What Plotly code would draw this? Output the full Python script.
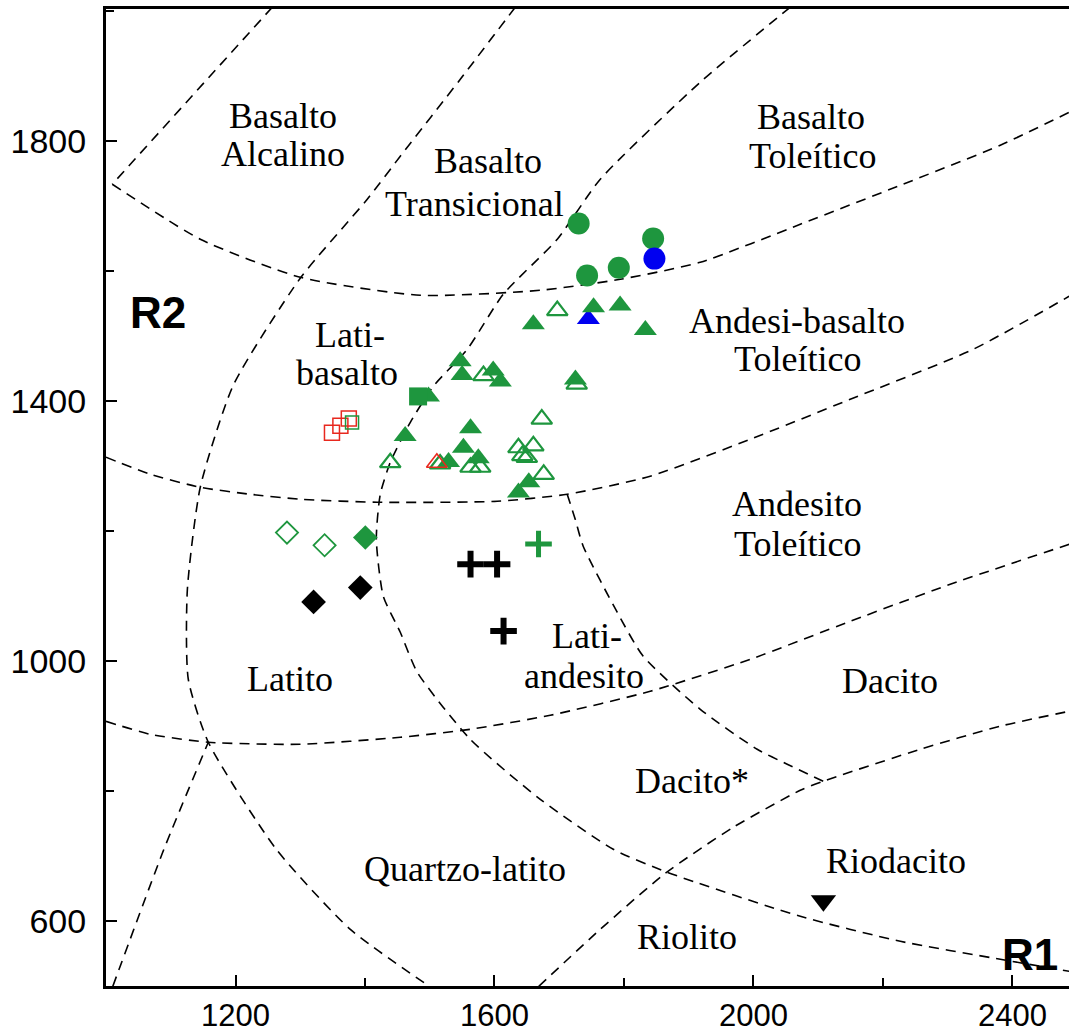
import plotly.graph_objects as go

GREEN = "rgb(30,150,62)"
BLUE = "rgb(0,0,240)"
RED = "rgb(232,40,30)"
BLACK = "black"

# ---------------- boundary curves (R1, R2) ----------------
line_alk_x = [1256.8, 1009.7]
line_alk_y = [2005.7, 1733.4]

curve_a_x = [1009.7, 1145.6, 1300.0, 1485.4, 1670.7, 1794.3, 1917.8, 2072.3, 2226.7, 2381.2, 2487.8]
curve_a_y = [1733.4, 1648.8, 1590.3, 1562.6, 1570.3, 1587.2, 1613.4, 1671.8, 1731.8, 1793.4, 1844.2]

arc1_x = [1632.1, 1547.2, 1454.5, 1403.5, 1300.0, 1196.6, 1145.6, 1125.6, 1127.1, 1158.0, 1263.0, 1377.3, 1499.3]
arc1_y = [2005.7, 1894.9, 1776.5, 1710.3, 1588.8, 1424.2, 1267.3, 1108.8, 971.9, 875.0, 710.3, 587.2, 499.5]

arc2_x = [2056.8, 1917.8, 1763.4, 1697.0, 1613.6, 1558.0, 1505.5, 1470.0, 1439.1, 1423.6, 1417.5,
          1428.3, 1454.5, 1480.8, 1562.6, 1670.7, 1783.5, 1866.9, 2072.3, 2226.7, 2381.2, 2487.8]
arc2_y = [2005.7, 1890.3, 1741.1, 1648.8, 1564.2, 1479.5, 1422.6, 1367.2, 1305.7, 1256.5, 1187.2,
          1099.5, 1044.2, 982.6, 879.5, 787.2, 710.3, 674.9, 607.2, 568.8, 541.1, 522.6]

curve_b_x = [1000.0, 1068.4, 1145.6, 1222.8, 1300.0, 1418.9, 1604.2, 1712.3, 1840.5, 1995.0, 2149.4, 2339.4, 2487.6]
curve_b_y = [1313.4, 1287.2, 1267.2, 1256.5, 1248.8, 1244.2, 1245.7, 1256.5, 1284.2, 1341.1, 1402.6, 1479.5, 1561.1]

curve_la_x = [1712.3, 1724.7, 1737.0, 1789.5, 1829.7, 1917.8, 2005.7, 2052.1, 2107.7]
curve_la_y = [1256.5, 1218.0, 1176.5, 1075.0, 1007.2, 925.7, 864.2, 841.1, 815.0]

curve_rd_x = [1668.4, 1763.4, 1863.8, 1968.8, 2072.3, 2107.7, 2257.5, 2381.0, 2487.6]
curve_rd_y = [499.5, 587.2, 673.4, 744.2, 801.1, 815.0, 864.2, 899.7, 922.6]

line_ll_x = [1010.5, 1089.4, 1158.0]
line_ll_y = [499.5, 710.3, 875.0]

curve_c_x = [1000.0, 1068.4, 1158.0, 1300.0, 1454.5, 1562.6, 1686.2, 1840.6, 1995.0, 2149.5, 2303.9, 2487.7]
curve_c_y = [907.2, 887.2, 875.0, 871.9, 882.6, 894.9, 916.5, 953.4, 1002.6, 1061.1, 1118.0, 1179.5]

# ---------------- samples ----------------
circ_green_x = [1730, 1845, 1743, 1792]
circ_green_y = [1673, 1650, 1593, 1605]
circ_blue_x = [1847]
circ_blue_y = [1619]
tri_blue_x = [1745]
tri_blue_y = [1526]

tri_fill_x = [1753, 1794, 1833, 1660, 1547, 1550, 1598, 1609, 1725, 1498, 1462, 1563, 1552, 1575, 1529, 1653, 1637]
tri_fill_y = [1544, 1547, 1509, 1518, 1461, 1440, 1447, 1430, 1433, 1407, 1346, 1358, 1328, 1312, 1306, 1275, 1259]

tri_open_x = [1697, 1583, 1727, 1673, 1439, 1563, 1578, 1516, 1637, 1660, 1650, 1676, 1643]
tri_open_y = [1539, 1439, 1426, 1372, 1305, 1298, 1298, 1303, 1328, 1331, 1313, 1287, 1316]

tri_red_x = [1511]
tri_red_y = [1305]

sq_red_x = [1349, 1362, 1375]
sq_red_y = [1351, 1362, 1373]
sq_open_green_x = [1380]
sq_open_green_y = [1367]
sq_fill_green_x = [1482]
sq_fill_green_y = [1407]

dia_open_x = [1279.5, 1337.6]
dia_open_y = [1197.5, 1178.0]
dia_green_x = [1400.5]
dia_green_y = [1190.0]
dia_black_x = [1320.6, 1392.7]
dia_black_y = [1090.8, 1112.9]

cross_black_x = [1563, 1604, 1614]
cross_black_y = [1149, 1149, 1046]
cross_green_x = [1668]
cross_green_y = [1180]

tri_down_x = [2108]
tri_down_y = [631]

fig = go.Figure()

DASH = "10px,7px"
for xs, ys in [(line_alk_x, line_alk_y), (curve_a_x, curve_a_y), (arc1_x, arc1_y), (arc2_x, arc2_y),
               (curve_b_x, curve_b_y), (curve_la_x, curve_la_y), (curve_rd_x, curve_rd_y),
               (line_ll_x, line_ll_y), (curve_c_x, curve_c_y)]:
    fig.add_trace(go.Scatter(x=xs, y=ys, mode="lines",
                             line=dict(color=BLACK, width=1.6, dash=DASH, shape="spline", smoothing=0.6),
                             hoverinfo="skip", showlegend=False))


def pts(xs, ys, symbol, size, color, lw=0, lcolor=None):
    fig.add_trace(go.Scatter(x=xs, y=ys, mode="markers", showlegend=False,
                             marker=dict(symbol=symbol, size=size, color=color,
                                         line=dict(width=lw, color=lcolor or color))))


pts(tri_blue_x, tri_blue_y, "triangle-up", 20, BLUE)
pts(tri_fill_x, tri_fill_y, "triangle-up", 20, GREEN)
pts(tri_open_x, tri_open_y, "triangle-up-open", 18, GREEN, 2.2)
pts(tri_red_x, tri_red_y, "triangle-up-open", 18, RED, 1.6)
pts(circ_green_x, circ_green_y, "circle", 22, GREEN)
pts(circ_blue_x, circ_blue_y, "circle", 22, BLUE)
pts(sq_red_x, sq_red_y, "square-open", 15, RED, 1.5)
pts(sq_open_green_x, sq_open_green_y, "square-open", 13, GREEN, 1.5)
pts(sq_fill_green_x, sq_fill_green_y, "square", 18, GREEN)
pts(dia_open_x, dia_open_y, "diamond-open", 17, GREEN, 1.8)
pts(dia_green_x, dia_green_y, "diamond", 19, GREEN)
pts(dia_black_x, dia_black_y, "diamond", 19, BLACK)
pts(cross_black_x, cross_black_y, "cross-thin", 19, BLACK, 6)
pts(cross_green_x, cross_green_y, "cross-thin", 19, GREEN, 5)
pts(tri_down_x, tri_down_y, "triangle-down", 22, BLACK)

SERIF = "Liberation Serif, Times New Roman, serif"
labels = [
    ("Basalto", 1273.8, 1838.0), ("Alcalino", 1273.8, 1779.5),
    ("Basalto", 1590.0, 1769.2), ("Transicional", 1569.6, 1703.1),
    ("Basalto", 2089.2, 1836.5), ("Toleítico", 2090.7, 1776.5),
    ("Lati-", 1377.3, 1501.1), ("basalto", 1372.7, 1442.6),
    ("Andesi-basalto", 2067.6, 1522.6), ("Toleítico", 2067.6, 1464.2),
    ("Andesito", 2067.6, 1241.1), ("Toleítico", 2067.6, 1179.5),
    ("Latito", 1284.6, 971.9),
    ("Lati-", 1743.3, 1038.0), ("andesito", 1738.7, 976.5),
    ("Dacito", 2211.3, 968.9),
    ("Dacito*", 1905.5, 815.1),
    ("Quartzo-latito", 1554.9, 679.7),
    ("Riodacito", 2220.6, 692.0),
    ("Riolito", 1897.7, 575.1),
]
for t, x, y in labels:
    fig.add_annotation(x=x, y=y, text=t, showarrow=False, xanchor="center", yanchor="middle",
                       font=dict(family=SERIF, size=36, color=BLACK))

for t, x, y in [("R2", 1080.8, 1536.5), ("R1", 2427.5, 548.2)]:
    fig.add_annotation(x=x, y=y, text="<b>%s</b>" % t, showarrow=False, xanchor="center", yanchor="middle",
                       font=dict(family="Liberation Sans, Arial, sans-serif", size=44, color=BLACK))

fig.update_layout(
    width=1069, height=1033,
    margin=dict(l=106, r=0, t=9, b=47, autoexpand=False),
    plot_bgcolor="white", paper_bgcolor="white",
    showlegend=False,
)
fig.update_xaxes(range=[1000, 2487.3], showgrid=False, zeroline=False, automargin=False,
                 showline=True, linewidth=3, linecolor=BLACK, mirror=True,
                 ticks="inside", ticklen=11, tickwidth=2, tickcolor=BLACK,
                 tick0=1200, dtick=400, ticklabelstandoff=0,
                 minor=dict(ticks="inside", ticklen=8, tickwidth=2, tickcolor=BLACK, dtick=200, tick0=1000),
                 tickfont=dict(family="Liberation Sans, Arial, sans-serif", size=31, color=BLACK))
fig.update_yaxes(range=[500, 2003], showgrid=False, zeroline=False, automargin=False,
                 showline=True, linewidth=3, linecolor=BLACK, mirror=False,
                 ticks="inside", ticklen=11, tickwidth=2, tickcolor=BLACK,
                 tick0=600, dtick=400, ticklabelstandoff=10,
                 minor=dict(ticks="inside", ticklen=8, tickwidth=2, tickcolor=BLACK, dtick=200, tick0=600),
                 tickfont=dict(family="Liberation Sans, Arial, sans-serif", size=34, color=BLACK))

fig.write_html("out.html")
